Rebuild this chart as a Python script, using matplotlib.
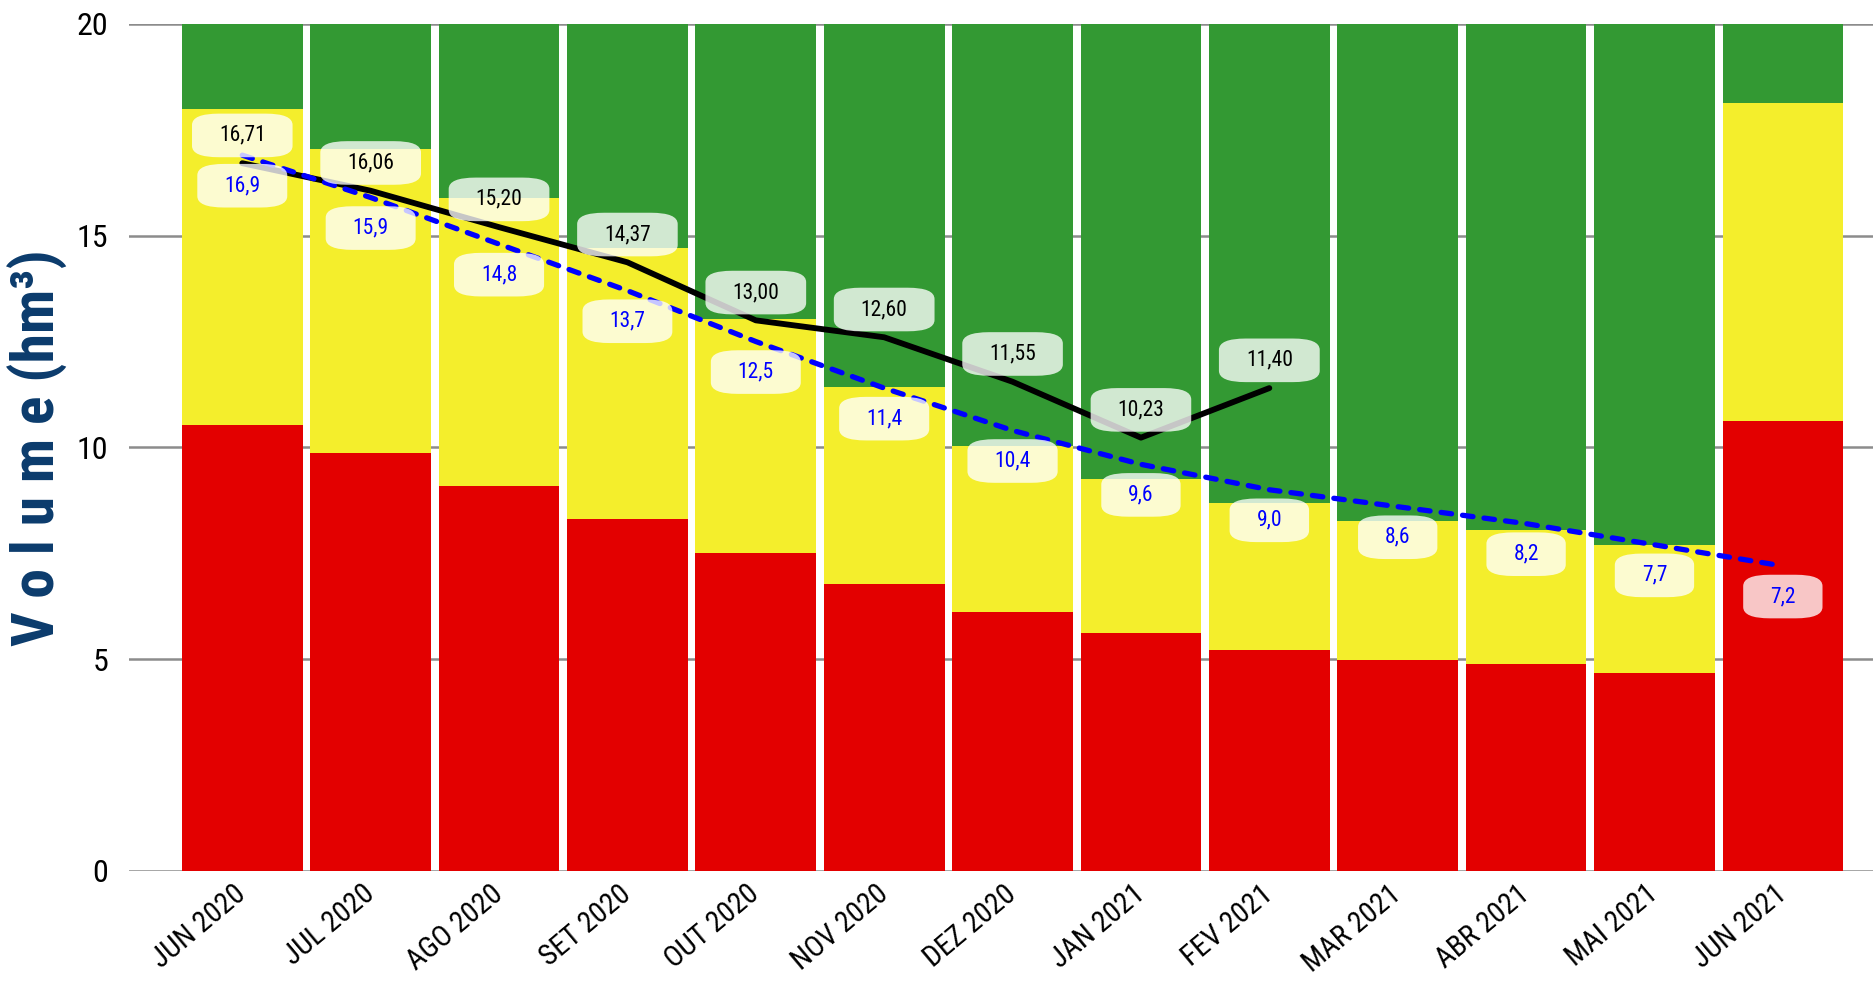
import numpy as np
import matplotlib
matplotlib.use('Agg')
import matplotlib.pyplot as plt
from matplotlib import font_manager

meses = ['JUN 2020', 'JUL 2020', 'AGO 2020', 'SET 2020', 'OUT 2020', 'NOV 2020',
         'DEZ 2020', 'JAN 2021', 'FEV 2021', 'MAR 2021', 'ABR 2021', 'MAI 2021', 'JUN 2021']

# limites das faixas (topo de cada cor), hm3
limite_vermelho = [10.52, 9.87, 9.08, 8.32, 7.50, 6.77, 6.12, 5.61, 5.22, 4.99, 4.88, 4.68, 10.63]
limite_amarelo = [18.00, 17.04, 15.88, 14.70, 13.03, 11.42, 10.04, 9.25, 8.69, 8.27, 8.04, 7.70, 18.12]
capacidade = [20.0] * 13

# volume observado e projetado
observado = [16.71, 16.06, 15.20, 14.37, 13.00, 12.60, 11.55, 10.23, 11.40]
projetado = [16.9, 15.9, 14.8, 13.7, 12.5, 11.4, 10.4, 9.6, 9.0, 8.6, 8.2, 7.7, 7.2]

nomes = {f.name for f in font_manager.fontManager.ttflist}
if 'Roboto Condensed' in nomes:
    fonte, estica = 'Roboto Condensed', 'normal'
elif 'Liberation Sans Narrow' in nomes:
    fonte, estica = 'Liberation Sans Narrow', 'normal'
else:
    fonte, estica = 'DejaVu Sans', 'condensed'
plt.rcParams['font.family'] = [fonte, 'DejaVu Sans']
plt.rcParams['font.stretch'] = estica

x = np.arange(len(meses))
red = np.array(limite_vermelho)
yel = np.array(limite_amarelo) - red
grn = np.array(capacidade) - np.array(limite_amarelo)

fig = plt.figure(figsize=(18.74, 9.82), dpi=100)
ax = fig.add_axes([0.069, 0.1131, 0.931, 0.8626])

w = 0.94
ax.bar(x, red, w, color='#e30000', zorder=2)
ax.bar(x, yel, w, bottom=red, color='#f4ee2c', zorder=2)
ax.bar(x, grn, w, bottom=red + yel, color='#339933', zorder=2)

xo = x[:len(observado)]
ax.plot(xo, observado, color='black', lw=4.2, zorder=4, solid_capstyle='round')
ax.plot(x, projetado, color='#0000ff', lw=3.8, zorder=4,
        dashes=(2.0, 2.1), dash_capstyle='round')

caixa = dict(boxstyle='round,pad=1.25', fc='white', ec='none', alpha=0.78,
             mutation_aspect=0.42)
for xi, v in zip(xo, observado):
    ax.annotate(f'{v:.2f}'.replace('.', ','), (xi, v), xytext=(0, 20),
                textcoords='offset points', ha='center', va='center',
                fontsize=15.5, color='black', bbox=caixa, zorder=5)
for xi, v in zip(x, projetado):
    ax.annotate(f'{v:.1f}'.replace('.', ','), (xi, v), xytext=(0, -22),
                textcoords='offset points', ha='center', va='center',
                fontsize=15.5, color='#0000ff', bbox=caixa, zorder=5)

ax.set_xlim(-0.88, 12.71)
ax.set_ylim(0, 20)
ax.set_yticks([0, 5, 10, 15, 20])
ax.grid(axis='y', color='#8c8c8c', lw=1.8, zorder=0)
ax.set_axisbelow(True)
for s in ax.spines.values():
    s.set_visible(False)
ax.tick_params(axis='both', length=0)
ax.tick_params(axis='y', pad=15, labelsize=23)
ax.set_xticks(x)
ax.set_xticklabels(meses, rotation=40, ha='right', va='center',
                   rotation_mode='anchor', fontsize=21)
ax.tick_params(axis='x', pad=14)

fig.text(0.02, 0.544, 'V o l u m e (hm³)', rotation=90, ha='center', va='center',
         fontsize=43, fontweight='semibold', color='#0b3b6c')

fig.savefig('out.png', dpi=100)
